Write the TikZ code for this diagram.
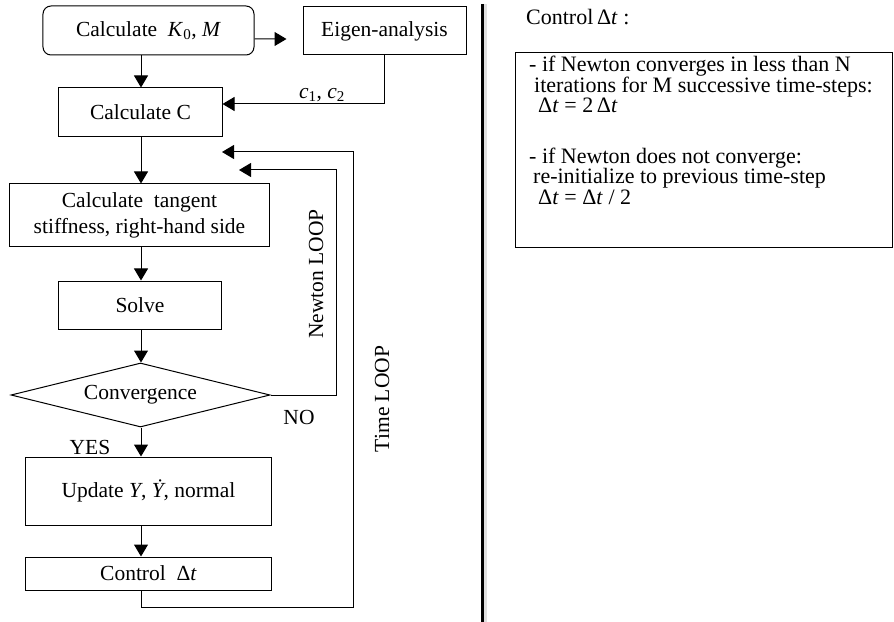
\documentclass[tikz,border=0pt]{standalone}
\usepackage{fontspec}
\setmainfont{Liberation Serif}
\usetikzlibrary{arrows.meta,shapes.geometric,calc}
\newcommand\myfs{\fontsize{21.5bp}{26bp}\selectfont}
\newcommand\myrfs{\fontsize{22bp}{20.5bp}\selectfont\lineskiplimit=-30pt\relax}
\newcommand\dt{Δ\textit{t}}
\begin{document}
\begin{tikzpicture}[x=1bp,y=-1bp,
  every node/.style={font=\myfs,inner sep=0pt},
  box/.style={draw,line width=1bp,align=center,rectangle},
  arr/.style={line width=1bp,-{Triangle[length=12bp,width=14bp]}},
  txt/.style={anchor=west}]
\useasboundingbox (0,0) rectangle (894,622);
% left flowchart nodes
\node[box,rounded corners=8bp,minimum width=211bp,minimum height=49bp] (k) at (148.5,30.5) {Calculate\ \ \textit{K}\textsubscript{0}, \textit{M}};
\node[box,minimum width=163bp,minimum height=48bp] (eig) at (384.5,31) {Eigen-analysis};
\node[box,minimum width=163bp,minimum height=49bp] (c) at (140.5,112.5) {Calculate C};
\node[box,minimum width=259bp,minimum height=62bp] (stiff) at (139.5,215) {Calculate\ \ tangent\\stiffness, right-hand side};
\node[box,minimum width=162bp,minimum height=48bp] (solve) at (140,305) {Solve};
\node[draw,line width=1bp,diamond,aspect=4,minimum width=259bp,minimum height=64bp] (conv) at (140.5,395) {Convergence};
\node[box,minimum width=245bp,minimum height=68bp] (update) at (148.5,491) {Update \textit{Y}, \textit{\.{Y}}, normal};
\node[box,minimum width=245bp,minimum height=33bp] (ctrl) at (148.5,573.5) {Control\ \ \dt};
% labels
\node (cc) at (322,95) {\textit{c}\textsubscript{1}, \textit{c}\textsubscript{2}};
\node (no) at (299,417) {NO};
\node (yes) at (90,447) {YES};
\node[rotate=90] (nlab) at (316,274) {Newton LOOP};
\node[rotate=90] (tlab) at (382,399) {Time LOOP};
% helper coordinates
\coordinate (ax) at (141,0);
\coordinate (nl) at (239,170);
\coordinate (ncorner) at (336,170);
\coordinate (tl) at (222,152);
\coordinate (tcorner) at (353,152);
\coordinate (tbot) at (141,607);
% connectors
\draw[arr] ($(k.east)+(0,8.5)$) -- ($(eig.west)+(-16,8)$);
\draw[arr] (k.south -| ax) -- (c.north -| ax);
\draw[arr] (eig.south) |- ($(c.east)+(0,-8.5)$);
\draw[arr] (c.south -| ax) -- (stiff.north -| ax);
\draw[arr] (stiff.south -| ax) -- (solve.north -| ax);
\draw[arr] (solve.south -| ax) -- (conv.north -| ax);
\draw[arr] (conv.south -| ax) -- (update.north -| ax);
\draw[arr] (update.south -| ax) -- (ctrl.north -| ax);
\draw[arr] (conv.east) -| (ncorner) -- (nl);
\draw[arr] (ctrl.south -| ax) -- (tbot) -| (tcorner) -- (tl);
% separator
\draw[black!12,line width=3bp] (485.5,4) -- (485.5,622);
\draw[line width=3bp] (482,4) -- (482,622);
% right panel
\node[txt,font=\myrfs] (ctitle) at (526,17) {Control\,\dt\ :};
\node[box,minimum width=377bp,minimum height=194bp] (rbox) at (703.5,150) {};
\node[anchor=north west,align=left,font=\myrfs] (rtext) at (529,56) {%
- if Newton converges in less than N\\
\hspace*{5bp}iterations for M successive time-steps:\\
\hspace*{9bp}\dt\ = 2\,\dt\\[30bp]
- if Newton does not converge:\\
\hspace*{4bp}re-initialize to previous time-step\\
\hspace*{9bp}\dt\ = \dt\ / 2};
\end{tikzpicture}
\end{document}
